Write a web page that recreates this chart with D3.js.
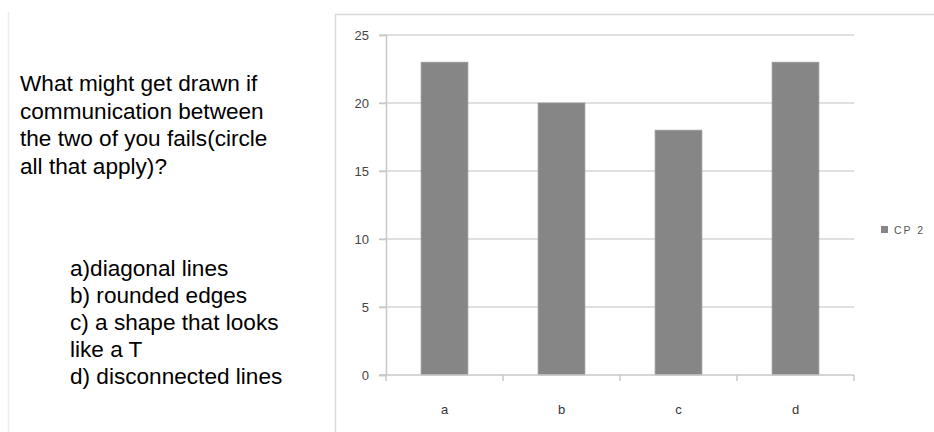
<!DOCTYPE html>
<html>
<head>
<meta charset="utf-8">
<script src="https://cdn.jsdelivr.net/npm/d3@7"></script>
<style>
  html, body { margin: 0; padding: 0; background: #fff; }
  svg { display: block; }
</style>
</head>
<body>
<svg id="chart" width="934" height="432"></svg>
<script>
const categories = ["a", "b", "c", "d"];
const values = [23, 20, 18, 23];
const seriesName = "CP 2";
const yTicks = [0, 5, 10, 15, 20, 25];
const questionLines = ["What might get drawn if", "communication between", "the two of you fails(circle", "all that apply)?"];
const answerLines = ["a)diagonal lines", "b) rounded edges", "c) a shape that looks", "like a T", "d) disconnected lines"];

const svg = d3.select("#chart");
svg.append("rect").attr("width", 934).attr("height", 432).attr("fill", "#fff");

// left slide border
svg.append("line").attr("x1", 8.5).attr("x2", 8.5).attr("y1", 12).attr("y2", 432)
  .attr("stroke", "#ececec").attr("stroke-width", 1.5);

// chart frame
svg.append("path").attr("d", "M335.5,432 V14.5 H934")
  .attr("fill", "none").attr("stroke", "#d9d9d9").attr("stroke-width", 1.5);

// question text
const tFont = "'Liberation Sans', Arial, sans-serif";
const q = svg.append("text").attr("font-family", tFont).attr("font-size", 22.6).attr("fill", "#000");
questionLines.forEach((s, i) => q.append("tspan").attr("x", 20).attr("y", 91 + i * 27.7).text(s));
const a = svg.append("text").attr("font-family", tFont).attr("font-size", 22.6).attr("fill", "#000");
answerLines.forEach((s, i) => a.append("tspan").attr("x", 70).attr("y", 276 + i * 27).text(s));

// scales
const x = d3.scaleBand().domain(categories).range([386, 854]).paddingInner(0.6).paddingOuter(0.3);
const y = d3.scaleLinear().domain([0, 25]).range([375, 35]);

// gridlines
const gridC = "#d6d6d6";
svg.append("g").selectAll("line").data(yTicks.filter(d => d > 0)).join("line")
  .attr("x1", 379).attr("x2", 854).attr("y1", d => y(d)).attr("y2", d => y(d))
  .attr("stroke", gridC).attr("stroke-width", 1.5);

// y axis
const yAxis = svg.append("g").attr("transform", "translate(386,0)")
  .call(d3.axisLeft(y).tickValues(yTicks).tickSize(7).tickPadding(10).tickFormat(d3.format("d")));
yAxis.select(".domain").attr("stroke", "#c8c8c8").attr("stroke-width", 1.5);
yAxis.selectAll(".tick line").attr("stroke", "#c8c8c8").attr("stroke-width", 1.5);
yAxis.selectAll(".tick text").attr("font-family", tFont).attr("font-size", 13).attr("fill", "#444").attr("dy", "0.35em");

// bars
svg.append("g").selectAll("rect").data(categories).join("rect")
  .attr("x", d => x(d)).attr("width", x.bandwidth())
  .attr("y", (d, i) => y(values[i])).attr("height", (d, i) => y(0) - y(values[i]))
  .attr("fill", "#868686").attr("stroke", "#9a9a9a").attr("stroke-width", 0.8);

// x axis
const step = x.step();
const bounds = [386].concat(categories.map((c, i) => 386 + (i + 1) * step));
const xg = svg.append("g");
xg.append("line").attr("x1", 379).attr("x2", 854).attr("y1", 375).attr("y2", 375)
  .attr("stroke", "#c8c8c8").attr("stroke-width", 1.5);
xg.selectAll("line.t").data(bounds).join("line").attr("class", "t")
  .attr("x1", d => d).attr("x2", d => d).attr("y1", 375).attr("y2", 381)
  .attr("stroke", "#c8c8c8").attr("stroke-width", 1.5);
xg.selectAll("text").data(categories).join("text")
  .attr("x", d => x(d) + x.bandwidth() / 2).attr("y", 414)
  .attr("text-anchor", "middle").attr("font-family", tFont).attr("font-size", 13)
  .attr("fill", "#333").text(d => d);

// legend
svg.append("rect").attr("x", 881).attr("y", 226).attr("width", 7).attr("height", 7).attr("fill", "#868686");
svg.append("text").attr("x", 894).attr("y", 233.5).attr("font-family", tFont).attr("font-size", 10.5)
  .attr("letter-spacing", 2).attr("fill", "#555").text(seriesName);
</script>
</body>
</html>
